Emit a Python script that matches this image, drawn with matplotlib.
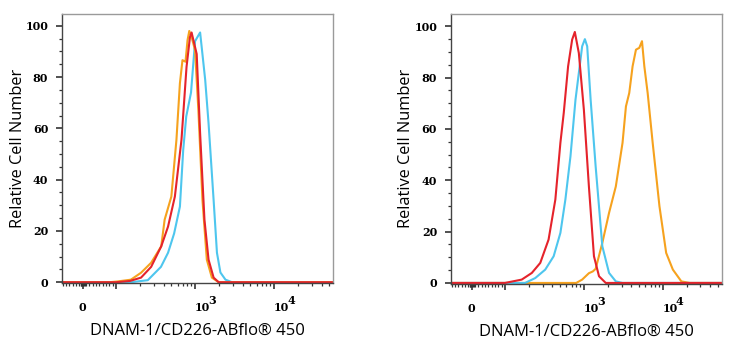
import matplotlib
matplotlib.use("Agg")
import matplotlib.pyplot as plt
import numpy as np

# ---------------- data ----------------
# Left panel
left_blue_x = [-62, 100, 154, 252, 370, 455, 543, 643, 708, 773, 889, 1000, 1159, 1343, 1482, 1718, 1893, 2094, 2427, 2945, 55800]
left_blue_y = [0, 0, 0, 0.8, 6, 11.5, 19, 29.5, 51.6, 64.6, 74, 94, 97.4, 79, 62, 32, 11.5, 3.8, 1, 0, 0]

left_red_x = [-62, 100, 150, 207, 278, 373, 455, 555, 673, 780, 862, 904, 1049, 1159, 1315, 1482, 1718, 1991, 55800]
left_red_y = [0, 0, 0.5, 1.8, 6, 14, 21.7, 33.4, 55.5, 84, 95.6, 97.4, 89, 58, 24.4, 8.8, 1.8, 0, 0]

left_orange_x = [-62, 80, 104, 154, 207, 278, 373, 412, 501, 581, 643, 693, 757, 803, 845, 904, 1000, 1102, 1241, 1409, 1633, 1991, 55800]
left_orange_y = [0, 0, 0.3, 1, 3.7, 7.6, 14, 24.4, 33.4, 55.5, 77.6, 86.6, 86, 94.4, 98, 95.6, 90.5, 67, 32, 8.8, 1.8, 0, 0]

# Right panel
right_red_x = [-62, 100, 163, 219, 280, 357, 435, 504, 556, 631, 710, 768, 863, 1000, 1158, 1342, 1556, 1893, 55800]
right_red_y = [0, 0, 1.3, 3.9, 7.8, 16.9, 32.5, 54.6, 66.3, 84.4, 94.8, 97.8, 89.6, 67.5, 37.6, 10.4, 2.6, 0, 0]

right_blue_x = [-62, 180, 242, 324, 414, 504, 583, 676, 783, 863, 951, 1030, 1102, 1218, 1410, 1713, 2085, 2540, 3090, 55800]
right_blue_y = [0, 0, 1.9, 5.2, 10.4, 19.5, 32.5, 49.3, 71.4, 81.8, 92.2, 95, 92.2, 71.4, 45.4, 14.3, 3.9, 0.6, 0, 0]

right_orange_x = [-62, 800, 951, 1158, 1300, 1410, 1713, 2085, 2540, 3090, 3413, 3758, 4143, 4571, 5035, 5452, 5838, 6433, 7447, 9074, 11040, 13420, 17190, 21930, 55800]
right_orange_y = [0, 0, 1.3, 3.8, 4.5, 5.5, 15.6, 27.3, 37.6, 54.6, 68.8, 74, 84.4, 90.9, 91.6, 94.2, 84.4, 74, 54.6, 29.9, 11.7, 5.2, 0.6, 0, 0]

x_major_ticks = [0, 100, 1000, 10000]
x_major_labels = ["0", "", "10", "10"]
x_sup_ticks = [1000, 10000]
x_sup_labels = ["3", "4"]
y_ticks = [0, 20, 40, 60, 80, 100]

xlabel = "DNAM-1/CD226-ABflo® 450"
ylabel = "Relative Cell Number"

RED = "#e5232b"
BLUE = "#4ec6ee"
ORANGE = "#f6a21e"

fig = plt.figure(figsize=(7.35, 3.5), dpi=100)
ax1 = fig.add_axes([0.0844, 0.1914, 0.3687, 0.770])
ax2 = fig.add_axes([0.6136, 0.1894, 0.3683, 0.7706])

panels = [
    (ax1, [(left_blue_x, left_blue_y, BLUE), (left_orange_x, left_orange_y, ORANGE), (left_red_x, left_red_y, RED)], -0.133),
    (ax2, [(right_orange_x, right_orange_y, ORANGE), (right_blue_x, right_blue_y, BLUE), (right_red_x, right_red_y, RED)], -0.137),
]

minor_lin = [-60, -50, -40, -30, -20, -10, -6, -4, -2, 2, 4, 6, 10, 20, 30, 40, 50, 60, 70, 80, 90]
minor_log = [m * d for d in (100, 1000, 10000) for m in range(2, 10) if m * d < 55000]

tick_font = dict(family='DejaVu Serif', weight='bold', size=8)

for ax, series, ylab_x in panels:
    ax.set_xscale('symlog', linthresh=100, linscale=0.38)
    for xs, ys, c in series:
        ax.plot(xs, ys, color=c, lw=1.5, solid_joinstyle='round')
    ax.set_xlim(-62, 55800)
    ax.set_ylim(-0.3, 104.8)
    ax.set_xticks(x_major_ticks)
    ax.set_xticklabels(x_major_labels)
    ax.set_xticks(minor_lin + minor_log, minor=True)
    ax.set_yticks(y_ticks)
    ax.set_yticks(np.arange(0, 101, 5), minor=True)
    ax.tick_params(axis='both', which='major', direction='out', length=4, width=1.2,
                   color='#333333')
    ax.tick_params(axis='both', which='minor', direction='out', length=2.2, width=0.9,
                   color='#333333')
    ax.tick_params(axis='x', which='major', pad=10)
    ax.tick_params(axis='y', which='major', pad=6)
    for lab in ax.get_xticklabels() + ax.get_yticklabels():
        lab.set_fontfamily(tick_font['family'])
        lab.set_fontweight(tick_font['weight'])
        lab.set_fontsize(tick_font['size'])
    for lab in ax.get_xticklabels()[2:]:
        lab.set_horizontalalignment('left')
    # superscript exponents
    for xv, s in zip(x_sup_ticks, x_sup_labels):
        ax.annotate(s, xy=(xv, 0), xycoords=('data', 'axes fraction'),
                    xytext=(9.5, -8.5), textcoords='offset points',
                    ha='left', va='top', annotation_clip=False, **tick_font)
    for s in ('left', 'bottom'):
        ax.spines[s].set_color('#444444')
        ax.spines[s].set_linewidth(1.0)
    for s in ('top', 'right'):
        ax.spines[s].set_color('#9a9a9a')
        ax.spines[s].set_linewidth(1.0)
    ax.set_xlabel(xlabel, fontsize=12, family='Open Sans', labelpad=7)
    ax.set_ylabel(ylabel, fontsize=11.8, family='Open Sans')
    ax.yaxis.set_label_coords(ylab_x, 0.5)

fig.savefig("out.png", dpi=100, facecolor='white')
